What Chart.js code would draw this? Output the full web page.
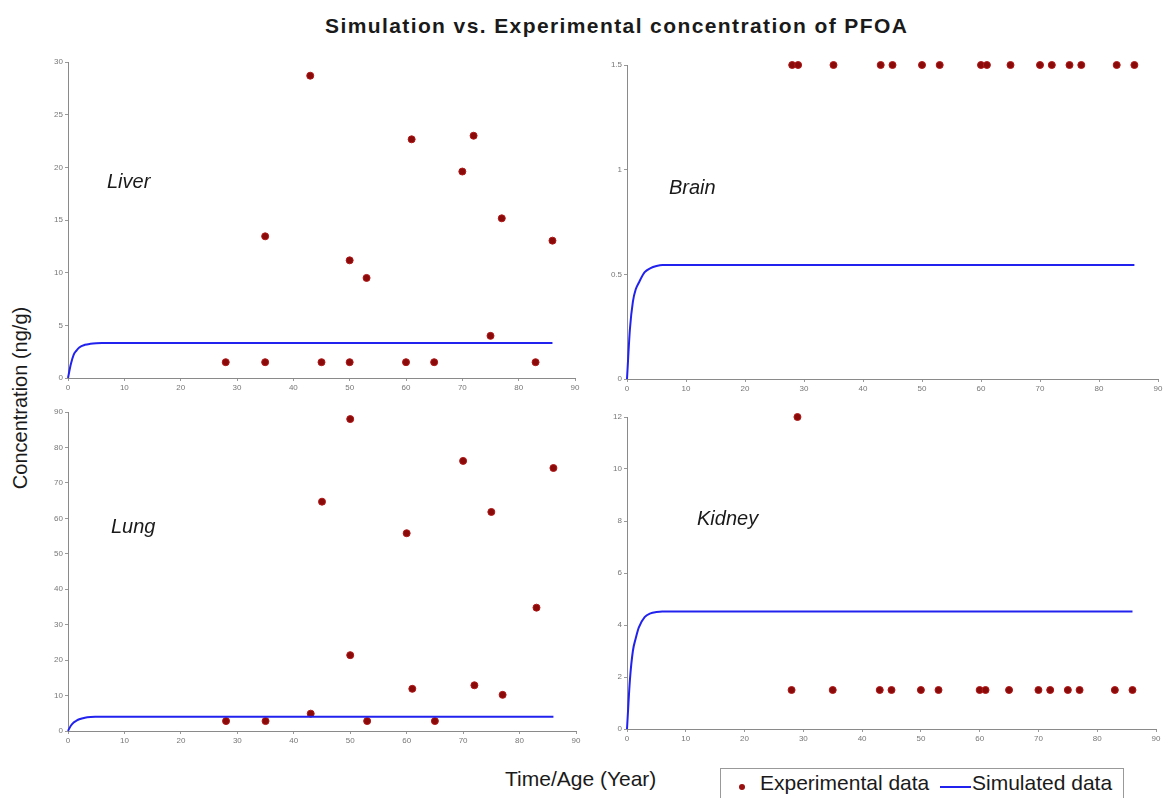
<!DOCTYPE html>
<html>
<head>
<meta charset="utf-8">
<script src="https://cdn.jsdelivr.net/npm/chart.js@4.4.0/dist/chart.umd.min.js"></script>
<style>
  body { margin: 0; background: #fff; width: 1169px; height: 798px; overflow: hidden; position: relative; font-family: "Liberation Sans", Arial, sans-serif; }
  canvas { position: absolute; }
  .txt { position: absolute; white-space: nowrap; color: #1a1a1a; }
  .organ { font-style: italic; font-size: 20px; }
</style>
</head>
<body>
<div class="txt" style="left:325px; top:14px; font-size:21px; font-weight:bold; letter-spacing:1.4px;">Simulation vs. Experimental concentration of PFOA</div>
<div class="txt" style="left:20px; top:398px; font-size:20px; transform: translate(-50%,-50%) rotate(-90deg);">Concentration (ng/g)</div>
<div class="txt" style="left:505px; top:767px; font-size:21px;">Time/Age (Year)</div>
<div style="position:absolute; left:720px; top:768px; width:402px; height:40px; border:1px solid #999; background:#fff;"></div>
<div style="position:absolute; left:739px; top:784px; width:6px; height:6px; border-radius:50%; background:#9a1010;"></div>
<div class="txt" style="left:760px; top:771px; font-size:21px;">Experimental data</div>
<div style="position:absolute; left:940px; top:786px; width:31px; height:2px; background:#2222ee;"></div>
<div class="txt" style="left:972px; top:771px; font-size:21px;">Simulated data</div>

<canvas id="liver" width="545" height="344" style="left:38px; top:54px;"></canvas>
<canvas id="brain" width="569" height="342" style="left:597px; top:57px;"></canvas>
<canvas id="lung" width="546" height="347" style="left:38px; top:404px;"></canvas>
<canvas id="kidney" width="567" height="340" style="left:597px; top:409px;"></canvas>

<div class="txt organ" style="left:107px; top:170px;">Liver</div>
<div class="txt organ" style="left:669px; top:176px;">Brain</div>
<div class="txt organ" style="left:111px; top:515px;">Lung</div>
<div class="txt organ" style="left:697px; top:507px;">Kidney</div>

<script>
// --- simulated curves (time in years) ---
const simTime   = [0, 0.5, 1, 1.5, 2, 3, 4, 5, 6, 8, 86];
const liverSim  = [0, 1.3, 2.2, 2.6, 2.9, 3.15, 3.25, 3.3, 3.32, 3.33, 3.33];
const brainSim  = [0, 0.24, 0.37, 0.43, 0.46, 0.51, 0.53, 0.54, 0.545, 0.545, 0.545];
const lungSim   = [0, 1.5, 2.4, 2.9, 3.3, 3.75, 3.95, 4.02, 4.05, 4.05, 4.05];
const kidneySim = [0, 1.9, 3.0, 3.5, 3.9, 4.3, 4.45, 4.5, 4.52, 4.52, 4.52];

// --- experimental data (age, ng/g) ---
const liverAge  = [28, 35, 35, 43, 45, 50, 50, 53, 60, 61, 65, 70, 72, 75, 77, 83, 86];
const liverConc = [1.5, 13.45, 1.5, 28.7, 1.5, 11.17, 1.5, 9.5, 1.5, 22.66, 1.5, 19.6, 23.0, 4.0, 15.16, 1.5, 13.04];

const brainAge  = [28, 29, 35, 43, 45, 50, 53, 60, 61, 65, 70, 72, 75, 77, 83, 86];
const brainConc = [1.5, 1.5, 1.5, 1.5, 1.5, 1.5, 1.5, 1.5, 1.5, 1.5, 1.5, 1.5, 1.5, 1.5, 1.5, 1.5];

const lungAge   = [28, 35, 43, 45, 50, 50, 53, 60, 61, 65, 70, 72, 75, 77, 83, 86];
const lungConc  = [2.8, 2.8, 4.9, 64.7, 88.0, 21.4, 2.8, 55.8, 11.9, 2.8, 76.2, 12.9, 61.8, 10.2, 34.8, 74.2];

const kidneyAge  = [28, 29, 35, 43, 45, 50, 53, 60, 61, 65, 70, 72, 75, 77, 83, 86];
const kidneyConc = [1.5, 12, 1.5, 1.5, 1.5, 1.5, 1.5, 1.5, 1.5, 1.5, 1.5, 1.5, 1.5, 1.5, 1.5, 1.5];

const xTicksStep = 10;

function makePanel(id, simY, expX, expY, yMax, yStep) {
  const ctx = document.getElementById(id).getContext("2d");
  const axisCommon = {
    grid: { display: true, drawOnChartArea: false, drawTicks: true, tickLength: 3, color: "#999" },
    border: { display: true, color: "#8a8a8a", width: 1 },
    ticks: { color: "#777", font: { size: 8 }, padding: 2, callback: v => String(v) }
  };
  new Chart(ctx, {
    type: "scatter",
    data: {
      datasets: [
        {
          label: "Simulated data",
          type: "line",
          data: simTime.map((t, i) => ({ x: t, y: simY[i] })),
          borderColor: "#2222ee",
          borderWidth: 2,
          pointRadius: 0,
          cubicInterpolationMode: "monotone",
          fill: false,
          clip: false
        },
        {
          label: "Experimental data",
          data: expX.map((a, i) => ({ x: a, y: expY[i] })),
          backgroundColor: "#8a0a0a",
          borderColor: "#b01818",
          borderWidth: 1,
          pointRadius: 3.5,
          clip: false
        }
      ]
    },
    options: {
      responsive: false,
      animation: false,
      layout: { padding: { top: 8, right: 8 } },
      plugins: { legend: { display: false }, tooltip: { enabled: false } },
      scales: {
        x: Object.assign({}, axisCommon, {
          type: "linear", min: 0, max: 90,
          ticks: Object.assign({}, axisCommon.ticks, { stepSize: xTicksStep }),
          afterFit: s => { s.height = 20; }
        }),
        y: Object.assign({}, axisCommon, {
          min: 0, max: yMax,
          ticks: Object.assign({}, axisCommon.ticks, { stepSize: yStep }),
          afterFit: s => { s.width = 30; }
        })
      }
    }
  });
}

makePanel("liver", liverSim, liverAge, liverConc, 30, 5);
makePanel("brain", brainSim, brainAge, brainConc, 1.5, 0.5);
makePanel("lung", lungSim, lungAge, lungConc, 90, 10);
makePanel("kidney", kidneySim, kidneyAge, kidneyConc, 12, 2);
</script>
</body>
</html>
